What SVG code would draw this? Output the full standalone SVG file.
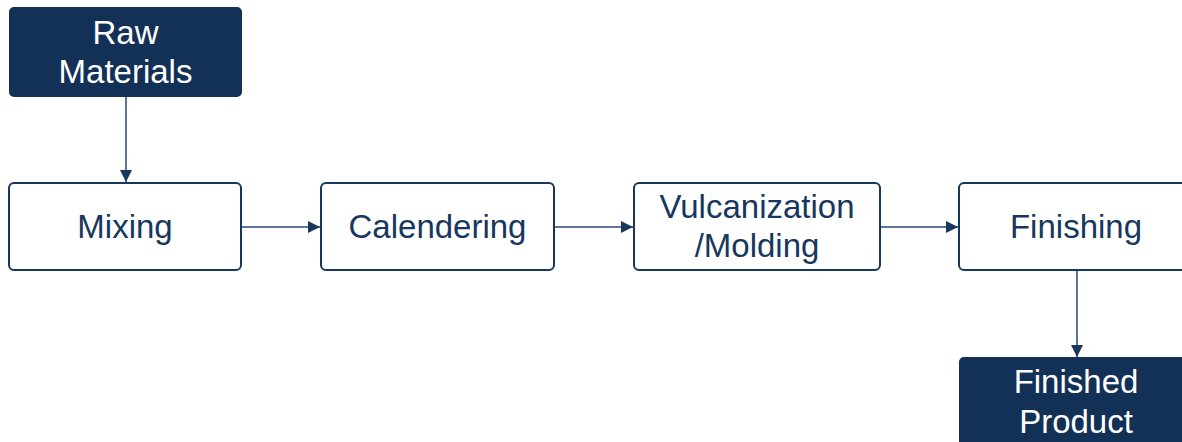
<svg xmlns="http://www.w3.org/2000/svg" width="1182" height="442" viewBox="0 0 1182 442">
<style>
.box{fill:#ffffff;stroke:#17375e;stroke-width:2}
.dark{fill:#133156;stroke:#133156;stroke-width:2}
.t{font-family:"Liberation Sans",Arial,sans-serif;font-size:33px;text-anchor:middle;fill:#17375e}
.tw{font-family:"Liberation Sans",Arial,sans-serif;font-size:33px;text-anchor:middle;fill:#ffffff}
.c{stroke:#2a4a70;stroke-width:1.5;fill:none;marker-end:url(#ah)}
</style>
<defs>
<marker id="ah" viewBox="0 0 12 12" refX="12" refY="6" markerWidth="12" markerHeight="12" markerUnits="userSpaceOnUse" orient="auto">
<path d="M0,0 L12,6 L0,12 z" fill="#17375e"/>
</marker>
</defs>
<g id="connectors">
<line class="c" x1="126" y1="96" x2="126" y2="182"/>
<line class="c" x1="241" y1="227" x2="320" y2="227"/>
<line class="c" x1="554" y1="227" x2="633" y2="227"/>
<line class="c" x1="880" y1="227" x2="958" y2="227"/>
<line class="c" x1="1077" y1="270" x2="1077" y2="357"/>
</g>
<g id="raw">
<rect class="dark" x="10" y="8" width="231" height="88" rx="4"/>
<text class="tw" x="125.5" y="44">Raw</text>
<text class="tw" x="125.5" y="83">Materials</text>
</g>
<g id="mixing">
<rect class="box" x="9" y="183" width="232" height="87" rx="5"/>
<text class="t" x="125" y="238">Mixing</text>
</g>
<g id="calendering">
<rect class="box" x="321" y="183" width="233" height="87" rx="5"/>
<text class="t" x="437.5" y="238">Calendering</text>
</g>
<g id="vulcanization">
<rect class="box" x="634" y="183" width="246" height="87" rx="5"/>
<text class="t" x="757" y="218">Vulcanization</text>
<text class="t" x="757" y="257">/Molding</text>
</g>
<g id="finishing">
<rect class="box" x="959" y="183" width="234" height="87" rx="5"/>
<text class="t" x="1076" y="238">Finishing</text>
</g>
<g id="finished">
<rect class="dark" x="960" y="358" width="233" height="90" rx="4"/>
<text class="tw" x="1076" y="393">Finished</text>
<text class="tw" x="1076" y="433">Product</text>
</g>
</svg>
